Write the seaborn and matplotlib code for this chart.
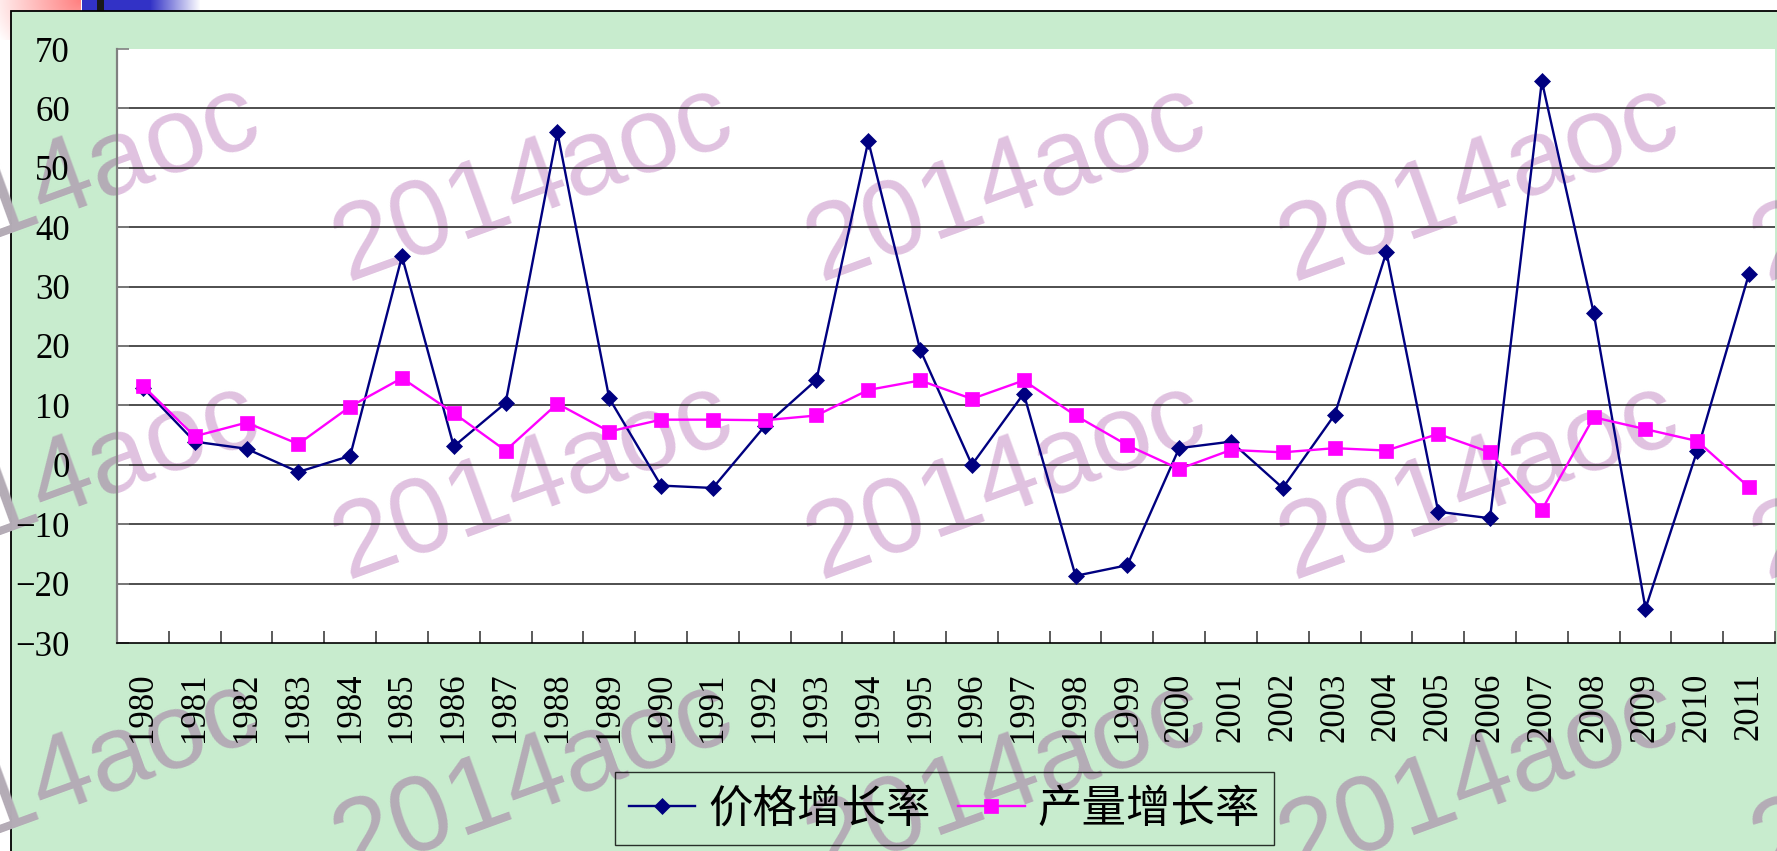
import numpy as np
import matplotlib
matplotlib.use("Agg")
import matplotlib.pyplot as plt
import seaborn as sns
from matplotlib.patches import Rectangle
from matplotlib.transforms import IdentityTransform
from matplotlib.font_manager import FontProperties

# ---------------- data ----------------
years = ["1980", "1981", "1982", "1983", "1984", "1985", "1986", "1987",
         "1988", "1989", "1990", "1991", "1992", "1993", "1994", "1995",
         "1996", "1997", "1998", "1999", "2000", "2001", "2002", "2003",
         "2004", "2005", "2006", "2007", "2008", "2009", "2010", "2011"]
price_growth = [13.0, 3.9, 2.7, -1.2, 1.5, 35.1, 3.1, 10.4, 56.0, 11.2,
                -3.5, -3.9, 6.5, 14.3, 54.5, 19.4, 0.0, 12.0, -18.7, -16.9,
                2.8, 3.9, -3.9, 8.4, 35.8, -7.9, -9.0, 64.6, 25.6, -24.2,
                2.4, 32.2]
output_growth = [13.3, 4.8, 7.1, 3.5, 9.8, 14.6, 8.7, 2.4, 10.3, 5.6,
                 7.6, 7.6, 7.5, 8.3, 12.6, 14.2, 11.1, 14.2, 8.3, 3.3,
                 -0.7, 2.5, 2.1, 2.8, 2.4, 5.2, 2.1, -7.6, 8.0, 6.0,
                 4.0, -3.8]
yticks = [-30, -20, -10, 0, 10, 20, 30, 40, 50, 60, 70]
series_names = ["价格增长率", "产量增长率"]
watermark = "2014aoc"

# ---------------- figure ----------------
W, H = 1777, 851
fig = plt.figure(figsize=(W / 100, H / 100), dpi=100, facecolor="white")

GREEN = "#C8ECCE"
# top-left slide decoration
deco = np.ones((40, 210, 3))
yy, xx = np.mgrid[0:40, 0:210]
d = np.sqrt((xx - 80.0) ** 2 + (yy * 1.3) ** 2)
t = np.clip(1 - d / 95.0, 0, 1) * (xx <= 80)
deco[..., 1] -= 0.5 * t
deco[..., 2] -= 0.5 * t
blue = (yy < 11) & (xx >= 82)
fade = np.clip((200 - xx) / 50.0, 0, 1)
for c, v in enumerate([0.2, 0.2, 0.78]):
    deco[..., c] = np.where(blue, 1 - fade * (1 - v), deco[..., c])
blk = (yy < 11) & (xx >= 97) & (xx <= 103)
deco[blk] = 0.1
im = fig.figimage(deco, xo=0, yo=H - 40, origin="upper")
im.set_zorder(-3)

# green panel with black top/left border
fig.patches.append(Rectangle((11 / W, -0.05), 1.1, (H - 11) / H + 0.05,
                             transform=fig.transFigure, facecolor=GREEN,
                             edgecolor="black", linewidth=1.3, zorder=-2))

ax = fig.add_axes([117 / W, (H - 643) / H, (1775 - 117) / W, (643 - 49) / H])
ax.set_facecolor("white")

# watermarks (grey over the green panel, pink over the white plot)
wm_font = FontProperties(family="Liberation Sans", size=78)
for ry in [210, 508, 806]:
    for cx in [70, 543, 1016, 1489, 1962]:
        fig.text(cx, H - ry, watermark, transform=IdentityTransform(),
                 fontproperties=wm_font, color="#B4ACB6", rotation=20,
                 rotation_mode="anchor", ha="center", va="baseline",
                 zorder=-1)
        ax.text(cx, H - ry, watermark, transform=IdentityTransform(),
                fontproperties=wm_font, color="#E0C2E0", rotation=20,
                rotation_mode="anchor", ha="center", va="baseline",
                zorder=0.3, clip_on=True)

xpos = np.arange(len(years))
sns.lineplot(x=xpos, y=price_growth, ax=ax, color="#000080", marker="D",
             markersize=8.3, mec="#000080", mew=0.5, lw=1.7,
             label=series_names[0], zorder=3)
sns.lineplot(x=xpos, y=output_growth, ax=ax, color="#FF00FF", marker="s",
             markersize=9.5, mec="#FF00FF", mew=0.5, lw=1.7,
             label=series_names[1], zorder=4)

ax.set_xlim(-0.5, len(years) - 0.5)
ax.set_ylim(yticks[0], yticks[-1])

for v in yticks[1:-1]:
    ax.axhline(v, color="#1E1E1E", lw=1.1, zorder=1)

num_font = "Liberation Serif"
ax.set_yticks(yticks)
ax.set_yticklabels([str(v).replace("-", "\u2212") for v in yticks],
                   fontfamily=num_font, fontsize=25)
ax.tick_params(axis="y", direction="in", length=8.6, width=1.2,
               color="#808080", pad=34)

ax.set_xticks(xpos)
ax.set_xticklabels(years, rotation=90, fontfamily=num_font, fontsize=25)
ax.tick_params(axis="x", which="major", length=0, pad=21)
ax.set_xticks(np.arange(len(years) + 1) - 0.5, minor=True)
ax.tick_params(axis="x", which="minor", direction="in", length=8.6,
               width=1.2, color="#404040")

for s in ["top", "right"]:
    ax.spines[s].set_visible(False)
ax.spines["left"].set_color("#808080")
ax.spines["left"].set_linewidth(1.6)
ax.spines["bottom"].set_color("black")
ax.spines["bottom"].set_linewidth(1.2)
ax.set_xlabel("")
ax.set_ylabel("")

handles, labels = ax.get_legend_handles_labels()
if ax.get_legend() is not None:
    ax.get_legend().remove()
leg = fig.legend(handles, labels, ncol=2, loc="center",
                 bbox_to_anchor=((612 + 1277) / 2 / W, 1 - 808.5 / H),
                 prop=FontProperties(family="Noto Sans CJK SC", size=32,
                                     weight="light"),
                 frameon=True, fancybox=False, edgecolor="black",
                 facecolor="none", handlelength=1.5, handletextpad=0.3,
                 columnspacing=0.6, borderpad=0.3, borderaxespad=0)
leg.get_frame().set_linewidth(1.0)

fig.savefig("out.png", dpi=100)
